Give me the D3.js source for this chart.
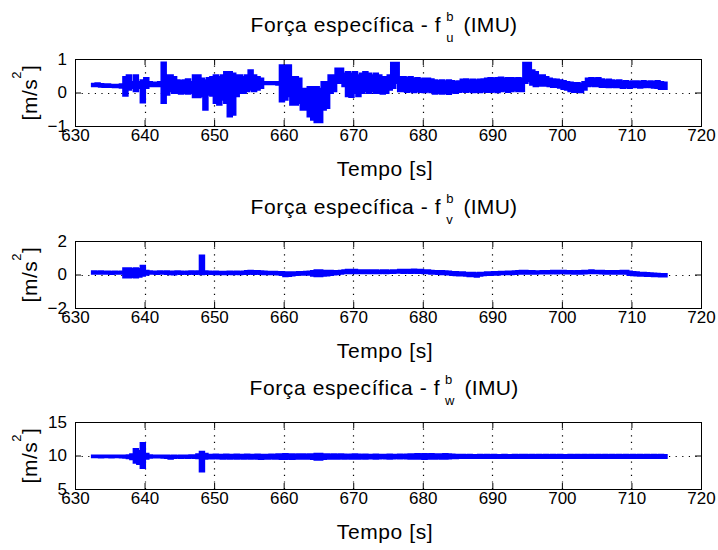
<!DOCTYPE html>
<html><head><meta charset="utf-8">
<script src="https://cdn.jsdelivr.net/npm/d3@7"></script>
<style>
body{margin:0;background:#fff}
svg{display:block}
text{font-family:"Liberation Sans",Arial,Helvetica,sans-serif;fill:#000}
</style>
</head><body>
<svg id="chart" width="718" height="550"></svg>
<script>
// ---- data: signal envelope (max / min) per 0.5 s bin, first bin starts at 632.5 s ----
const binStart = 632.5;
const binWidth = 0.5;

const xTicks = [630, 640, 650, 660, 670, 680, 690, 700, 710, 720];

const fuHi = [
 .25, .26, .24, .23, .23, .22, .22, .22, .23, .45,
 .50, .30, .50, .30, .35, .42, .30, .28, .28, .30,
 .88, .50, .50, .45, .35, .33, .35, .38, .30, .50,
 .50, .40, .35, .42, .45, .50, .45, .50, .60, .60,
 .55, .50, .50, .45, .50, .65, .50, .45, .40, .30,
 .30, .30, .30, .30, .80, .80, .80, .45, .45, .40,
 .10, .10, .15, .15, .15, .10, .30, .30, .50, .50,
 .70, .70, .55, .60, .55, .60, .50, .55, .60, .55,
 .50, .55, .50, .45, .45, .50, .87, .87, .45, .45,
 .42, .45, .40, .42, .38, .40, .40, .38, .35, .33,
 .35, .32, .35, .33, .30, .32, .37, .38, .35, .37,
 .35, .37, .38, .40, .42, .40, .42, .43, .40, .42,
 .42, .40, .42, .40, .87, .87, .65, .60, .50, .50,
 .45, .40, .38, .37, .35, .33, .30, .28, .27, .27,
 .25, .30, .40, .42, .40, .42, .38, .35, .37, .35,
 .33, .35, .32, .33, .30, .32, .32, .30, .33, .30,
 .32, .30, .33, .30, .28
];
const fuLo = [
 .20, .20, .19, .18, .18, .18, .17, .17, .16, -.08,
 .10, .15, .05, .15, -.28, .15, .20, .20, .20, .20,
 -.30, -.05, .05, .00, .00, -.02, .00, -.02, .00, -.13,
 -.13, -.10, -.50, -.05, -.08, -.30, -.35, -.20, -.30, -.70,
 -.65, -.10, .00, .00, .05, .10, .05, .10, .15, .26,
 .26, .26, .26, .25, -.25, -.20, -.10, -.35, -.35, -.30,
 -.50, -.50, -.70, -.80, -.87, -.87, -.50, -.45, .00, .05,
 .30, .30, .20, -.10, -.12, .00, -.10, .00, .05, .00,
 .05, .00, .00, -.02, .00, .10, .15, .30, .05, .05,
 .03, .05, .02, .05, .03, .02, .05, .02, -.02, .00,
 -.02, .00, -.03, .02, .00, .03, .05, .03, .05, .02,
 .03, .02, .05, .03, .03, .05, .02, .05, .07, .03,
 .05, .08, .05, .05, .30, .35, .25, .20, .22, .22,
 .22, .20, .18, .18, .16, .12, .10, .05, .03, .03,
 .02, .10, .20, .22, .20, .20, .18, .18, .17, .18,
 .17, .18, .15, .17, .15, .17, .18, .16, .17, .18,
 .17, .16, .15, .12, .12
];
const fuTicks = [-1, 0, 1];

const fvHi = [
 .16, .15, .16, .14, .15, .14, .15, .14, .15, .35,
 .35, .30, .35, .30, .50, .20, .16, .15, .15, .16,
 .15, .16, .14, .15, .16, .15, .14, .15, .16, .15,
 .16, 1.10, .16, .15, .14, .15, .14, .13, .14, .15,
 .14, .15, .14, .15, .18, .20, .18, .18, .16, .15,
 .14, .13, .13, .12, .12, .10, .10, .10, .10, .12,
 .12, .13, .15, .18, .22, .22, .20, .20, .20, .18,
 .18, .20, .22, .25, .25, .25, .22, .22, .22, .22,
 .22, .22, .20, .22, .22, .20, .22, .23, .25, .25,
 .25, .25, .27, .25, .25, .22, .22, .20, .18, .18,
 .18, .17, .15, .12, .12, .10, .10, .08, .08, .07,
 .05, .08, .08, .10, .10, .12, .12, .14, .14, .15,
 .15, .17, .18, .20, .20, .18, .18, .17, .17, .18,
 .18, .18, .20, .19, .20, .20, .18, .18, .17, .18,
 .18, .20, .20, .22, .20, .20, .20, .18, .18, .18,
 .18, .18, .20, .20, .15, .12, .10, .08, .07, .06,
 .05, .03, .02, .00, .00
];
const fvLo = [
 .08, .07, .08, .07, .07, .06, .07, .07, .07, -.15,
 -.15, -.12, -.15, -.10, -.05, .02, .07, .07, .06, .07,
 .07, .06, .05, .03, .07, .06, .07, .06, .07, .06,
 .07, .05, .06, .07, .06, .05, .05, .04, .05, .06,
 .05, .06, .05, .06, .06, .07, .06, .07, .06, .05,
 .05, .04, .04, .03, .00, -.08, -.06, -.03, .00, .02,
 .02, .03, .02, -.05, -.08, -.08, -.05, -.03, .00, .03,
 .05, .07, .10, .10, .10, .12, .10, .10, .10, .10,
 .10, .10, .10, .12, .10, .12, .12, .13, .13, .12,
 .13, .12, .14, .12, .12, .10, .10, .08, .07, .06,
 .05, .05, .03, .00, -.02, -.03, -.03, -.05, -.08, -.06,
 -.10, -.05, -.02, .00, .00, .02, .02, .04, .04, .05,
 .05, .06, .07, .08, .08, .08, .08, .08, .09, .09,
 .09, .09, .10, .09, .10, .10, .09, .09, .08, .08,
 .08, .09, .10, .10, .10, .10, .09, .08, .08, .08,
 .08, .08, .08, .07, .00, -.02, -.03, -.04, -.05, -.06,
 -.06, -.07, -.08, -.09, -.09
];
const fvTicks = [-2, 0, 2];

const fwHi = [
 9.92, 9.93, 9.92, 9.92, 9.91, 9.92, 9.93, 9.92, 9.92, 9.92,
 9.95, 10.10, 10.90, 10.60, 11.80, 10.20, 9.95, 9.93, 9.92, 9.92,
 9.92, 9.93, 9.90, 9.92, 9.90, 9.92, 9.93, 9.92, 9.95, 9.98,
 10.10, 10.50, 10.20, 10.05, 10.05, 10.08, 10.05, 10.05, 10.08, 10.05,
 10.05, 10.08, 10.05, 10.05, 10.08, 10.05, 10.05, 10.08, 10.05, 10.05,
 10.05, 10.08, 10.05, 10.10, 10.12, 10.15, 10.12, 10.10, 10.08, 10.10,
 10.10, 10.08, 10.10, 10.12, 10.20, 10.20, 10.12, 10.10, 10.08, 10.10,
 10.08, 10.10, 10.08, 10.05, 10.08, 10.10, 10.08, 10.05, 10.08, 10.05,
 10.05, 10.08, 10.05, 10.05, 10.05, 10.08, 10.05, 10.05, 10.08, 10.05,
 10.08, 10.10, 10.12, 10.15, 10.12, 10.15, 10.12, 10.15, 10.12, 10.10,
 10.12, 10.15, 10.10, 10.08, 10.05, 10.02, 10.02, 10.00, 10.02, 10.00,
 10.00, 10.02, 10.00, 10.02, 10.00, 10.02, 10.00, 10.00, 10.02, 10.00,
 10.00, 10.02, 10.00, 10.02, 10.02, 10.00, 10.02, 10.00, 10.02, 10.00,
 10.02, 10.00, 10.02, 10.00, 10.02, 10.00, 10.00, 10.02, 10.00, 10.02,
 10.00, 10.02, 10.00, 10.02, 10.00, 10.02, 10.00, 10.02, 10.00, 10.02,
 10.00, 10.02, 10.00, 10.02, 10.00, 10.02, 10.00, 10.02, 10.00, 10.02,
 10.00, 10.02, 10.00, 10.02, 10.00
];
const fwLo = [
 9.80, 9.80, 9.79, 9.80, 9.80, 9.79, 9.80, 9.80, 9.78, 9.75,
 9.65, 9.50, 9.00, 8.80, 8.20, 9.60, 9.75, 9.78, 9.78, 9.77,
 9.75, 9.70, 9.60, 9.72, 9.75, 9.72, 9.75, 9.72, 9.75, 9.70,
 9.65, 7.70, 9.60, 9.65, 9.62, 9.65, 9.62, 9.60, 9.62, 9.60,
 9.62, 9.60, 9.62, 9.60, 9.62, 9.60, 9.62, 9.60, 9.55, 9.60,
 9.60, 9.62, 9.60, 9.58, 9.55, 9.55, 9.58, 9.55, 9.58, 9.60,
 9.58, 9.60, 9.58, 9.55, 9.45, 9.45, 9.55, 9.58, 9.60, 9.58,
 9.60, 9.62, 9.60, 9.62, 9.60, 9.58, 9.60, 9.62, 9.60, 9.62,
 9.62, 9.60, 9.62, 9.65, 9.62, 9.60, 9.62, 9.65, 9.62, 9.65,
 9.62, 9.60, 9.58, 9.60, 9.58, 9.55, 9.60, 9.58, 9.60, 9.62,
 9.60, 9.58, 9.62, 9.65, 9.68, 9.70, 9.70, 9.72, 9.70, 9.72,
 9.72, 9.70, 9.72, 9.70, 9.72, 9.70, 9.72, 9.72, 9.70, 9.72,
 9.72, 9.70, 9.72, 9.70, 9.72, 9.72, 9.70, 9.72, 9.70, 9.72,
 9.70, 9.72, 9.70, 9.72, 9.70, 9.72, 9.72, 9.70, 9.72, 9.70,
 9.72, 9.70, 9.72, 9.70, 9.72, 9.70, 9.72, 9.70, 9.72, 9.70,
 9.72, 9.70, 9.72, 9.70, 9.72, 9.70, 9.72, 9.70, 9.72, 9.70,
 9.72, 9.70, 9.72, 9.70, 9.72
];
const fwTicks = [5, 10, 15];

const titleMain = "Força específica - f";
const titleSup = "b";
const titleTail = "(IMU)";
const subLabels = ["u", "v", "w"];
const xLabel = "Tempo [s]";
const yLabelMain = "[m/s";
const yLabelSup = "2";
const yLabelEnd = "]";

// ---- layout ----
const svg = d3.select("#chart");
const left = 75, right = 701, panelH = 67;
const tops = [59, 241, 422];
const his = [fuHi, fvHi, fwHi];
const los = [fuLo, fvLo, fwLo];
const yTickSets = [fuTicks, fvTicks, fwTicks];
const gridY = [0, 0, 10];
const blue = "#0000ff";

const x = d3.scaleLinear().domain([xTicks[0], xTicks[xTicks.length - 1]]).range([left, right]);

his.forEach((hi, k) => {
  const lo = los[k];
  const top = tops[k], bottom = top + panelH;
  const yt = yTickSets[k];
  const y = d3.scaleLinear().domain([yt[0], yt[yt.length - 1]]).range([bottom, top]);
  const g = svg.append("g");

  // grid (dotted)
  g.selectAll(".vg").data(xTicks.slice(1, -1)).join("line")
    .attr("x1", d => Math.round(x(d)) + 0.5).attr("x2", d => Math.round(x(d)) + 0.5)
    .attr("y1", top).attr("y2", bottom)
    .attr("stroke", "#000").attr("stroke-width", 1.2).attr("stroke-dasharray", "1.2,5.4");
  g.append("line")
    .attr("x1", left).attr("x2", right)
    .attr("y1", Math.round(y(gridY[k])) + 0.5).attr("y2", Math.round(y(gridY[k])) + 0.5)
    .attr("stroke", "#000").attr("stroke-width", 1.2).attr("stroke-dasharray", "1.2,5.4");

  // signal drawn as its min/max envelope per bin (thick blue trace)
  const bins = hi.map((h, i) => ({ t: binStart + i * binWidth, hi: h, lo: lo[i] }));
  const last = bins[bins.length - 1];
  bins.push({ t: last.t + binWidth, hi: last.hi, lo: last.lo });
  const area = d3.area()
    .x(d => x(d.t))
    .y0(d => y(d.lo))
    .y1(d => y(d.hi))
    .curve(d3.curveStepAfter);
  g.append("path").datum(bins)
    .attr("d", area)
    .attr("fill", blue).attr("stroke", blue).attr("stroke-width", 3)
    .attr("stroke-linejoin", "miter");

  // axes via d3 axis (ticks inward, on all four sides)
  const ax = g.append("g").attr("transform", `translate(0,${bottom})`)
    .call(d3.axisBottom(x).tickValues(xTicks).tickSize(-6).tickPadding(3).tickFormat(d3.format("d")));
  const axTop = g.append("g").attr("transform", `translate(0,${top})`)
    .call(d3.axisTop(x).tickValues(xTicks).tickSize(-6).tickFormat(""));
  const ay = g.append("g").attr("transform", `translate(${left},0)`)
    .call(d3.axisLeft(y).tickValues(yt).tickSize(-6).tickPadding(8).tickFormat(d3.format("d")));
  const ayR = g.append("g").attr("transform", `translate(${right},0)`)
    .call(d3.axisRight(y).tickValues(yt).tickSize(-6).tickFormat(""));
  [ax, axTop, ay, ayR].forEach(a => {
    a.select(".domain").remove();
    a.selectAll("line").attr("stroke", "#000");
  });
  ax.selectAll("text").attr("font-size", 17).attr("dy", null).attr("y", 15)
    .style("font-family", "'Liberation Sans',Arial,sans-serif");
  ay.selectAll("text").attr("font-size", 17)
    .style("font-family", "'Liberation Sans',Arial,sans-serif");

  // box
  g.append("rect").attr("x", left + 0.5).attr("y", top + 0.5)
    .attr("width", right - left).attr("height", panelH)
    .attr("fill", "none").attr("stroke", "#000").attr("stroke-width", 1);

  // y label, placed left of the widest tick label
  let minX = left;
  ay.selectAll("text").each(function () {
    const b = this.getBBox();
    minX = Math.min(minX, left + b.x);
  });
  const ylx = minX - 11, yly = (top + bottom) / 2;
  const ylab = g.append("text")
    .attr("transform", `translate(${ylx},${yly}) rotate(-90)`)
    .attr("text-anchor", "middle").attr("font-size", 21).attr("letter-spacing", 0.5);
  ylab.append("tspan").text(yLabelMain);
  ylab.append("tspan").attr("font-size", 13).attr("dy", -16).text(yLabelSup);
  ylab.append("tspan").attr("dy", 16).text(yLabelEnd);

  // x label
  g.append("text").attr("x", (left + right) / 2 - 3).attr("y", bottom + 50)
    .attr("text-anchor", "middle").attr("font-size", 21).attr("letter-spacing", 0.6)
    .text(xLabel);

  // title with stacked super/subscript
  const tg = g.append("g");
  const base = top - 27;
  const t1 = tg.append("text").attr("x", 0).attr("y", base).attr("font-size", 21)
    .attr("letter-spacing", 0.6).text(titleMain);
  const w1 = t1.node().getComputedTextLength();
  const sx = w1 + 5;
  const tsup = tg.append("text").attr("x", sx).attr("y", base - 11).attr("font-size", 13).text(titleSup);
  const tsub = tg.append("text").attr("x", sx).attr("y", base + 10).attr("font-size", 13).text(subLabels[k]);
  const ws = Math.max(tsup.node().getComputedTextLength(), tsub.node().getComputedTextLength());
  const tx = sx + ws + 10;
  const t3 = tg.append("text").attr("x", tx).attr("y", base).attr("font-size", 21)
    .attr("letter-spacing", 0.3).text(titleTail);
  const W = tx + t3.node().getComputedTextLength();
  tg.attr("transform", `translate(${(left + right) / 2 - 4 - W / 2},0)`);
});
</script>
</body></html>
